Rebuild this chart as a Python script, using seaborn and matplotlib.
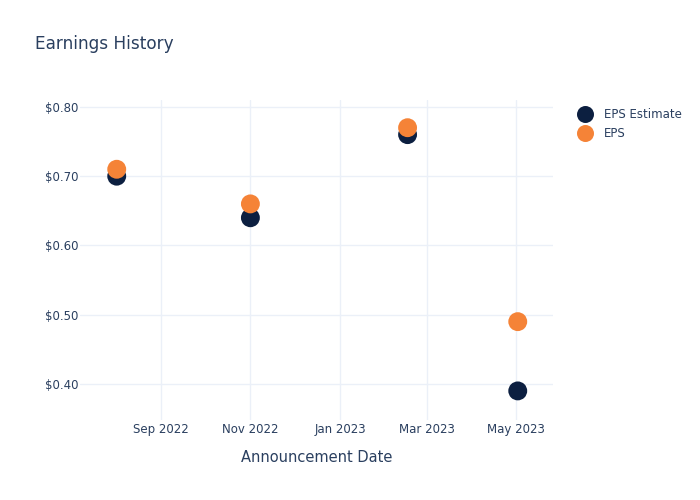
import matplotlib
matplotlib.use("Agg")
import matplotlib.pyplot as plt
import matplotlib.dates as mdates
import matplotlib.ticker as mticker
import seaborn as sns
import pandas as pd

dates = ["2022-08-02", "2022-11-01", "2023-02-16", "2023-05-02"]
eps_estimate = [0.70, 0.64, 0.76, 0.39]
eps_actual = [0.71, 0.66, 0.77, 0.49]
series_names = ["EPS Estimate", "EPS"]
colors = ["#0c1f40", "#f58337"]

df = pd.DataFrame({
    "date": pd.to_datetime(dates * 2),
    "value": eps_estimate + eps_actual,
    "series": [series_names[0]] * len(dates) + [series_names[1]] * len(dates),
})

sns.set_style("white")
plt.rcParams["font.family"] = ["DejaVu Sans"]
text_color = "#2a3f5f"
grid_color = "#ebf0f8"

fig = plt.figure(figsize=(7, 5), dpi=100)
ax = fig.add_axes([80 / 700, 80 / 500, (553 - 80) / 700, (420 - 100) / 500])

sns.scatterplot(data=df, x="date", y="value", hue="series", palette=colors,
                hue_order=series_names, s=185, edgecolor="none", ax=ax, zorder=3)

ax.set_xlim(pd.Timestamp("2022-07-08"), pd.Timestamp("2023-05-26"))
ax.set_ylim(0.348, 0.81)
ax.set_yticks([0.4, 0.5, 0.6, 0.7, 0.8])
ax.yaxis.set_major_formatter(mticker.FuncFormatter(lambda v, p: f"${v:.2f}"))
ax.xaxis.set_major_locator(mdates.MonthLocator(bymonth=[1, 3, 5, 7, 9, 11]))
ax.xaxis.set_major_formatter(mdates.DateFormatter("%b %Y"))

ax.grid(True, color=grid_color, linewidth=1)
ax.set_axisbelow(True)
for sp in ax.spines.values():
    sp.set_visible(False)
ax.tick_params(axis="y", length=0, labelsize=8.5, colors=text_color, pad=1)
ax.tick_params(axis="x", length=0, labelsize=8.5, colors=text_color, pad=2)
ax.set_xlabel("Announcement Date", fontsize=10.5, color=text_color, labelpad=10)
ax.set_ylabel("")

fig.text(35 / 700, 1 - 44 / 500, "Earnings History", fontsize=12.2, color=text_color,
         va="center", ha="left")

leg = ax.legend(loc="upper left", bbox_to_anchor=(1.02, 1.007), frameon=False,
                fontsize=8.5, labelspacing=0.45, handletextpad=0.6, markerscale=0.9)
for t in leg.get_texts():
    t.set_color(text_color)

fig.savefig("out.png", dpi=100)
